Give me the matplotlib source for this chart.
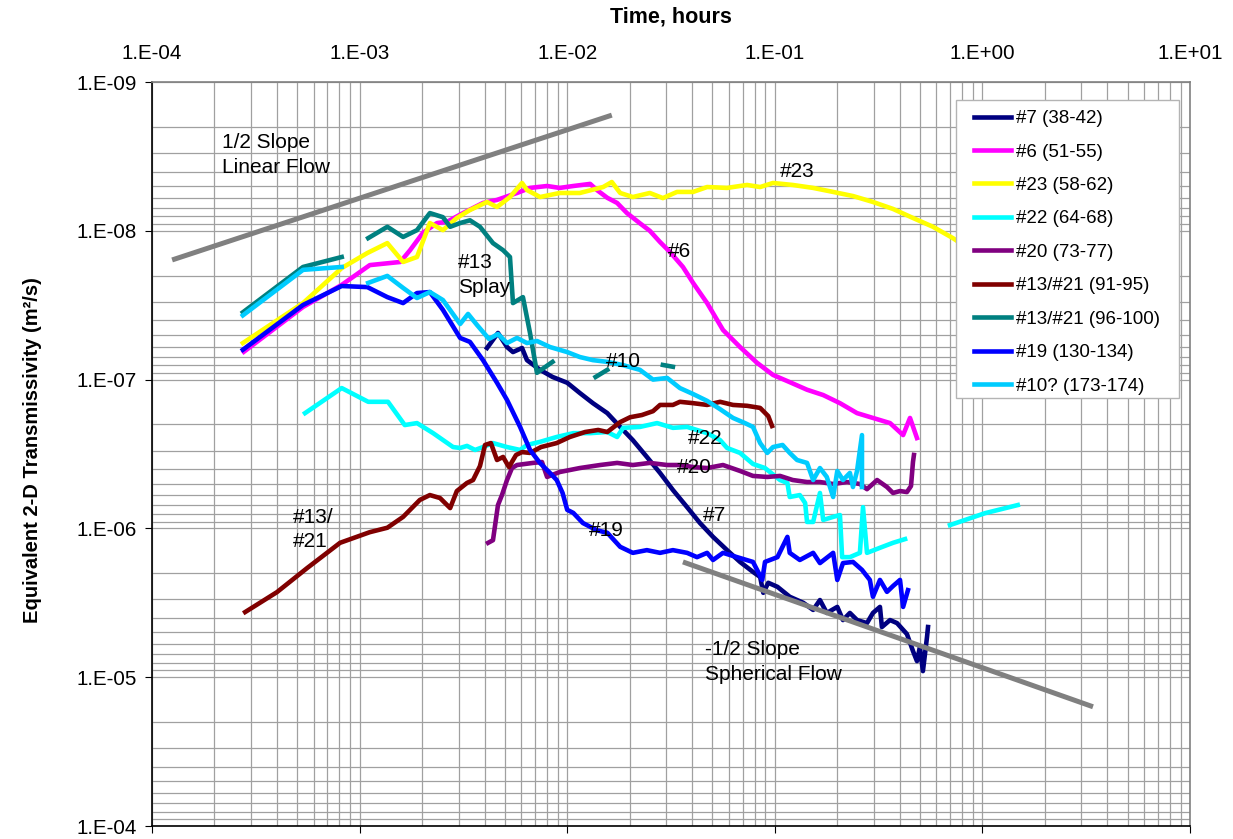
import numpy as np
import matplotlib
matplotlib.use("Agg")
import matplotlib.pyplot as plt
from matplotlib.ticker import LogLocator, FuncFormatter, NullFormatter
from matplotlib.patches import Rectangle

plt.rcParams['font.family'] = ['Liberation Sans', 'DejaVu Sans']

nan = np.nan

# ---------------- data (time in hours, transmissivity in m^2/s) ----------------
t7 = [4.11e-3, 4.64e-3, 5.13e-3, 5.48e-3, 6.06e-3, 6.4e-3, 7.4e-3, 8.5e-3, 1.0e-2, 1.15e-2,
      1.33e-2, 1.56e-2, 1.8e-2, 2.07e-2, 2.42e-2, 2.8e-2, 3.23e-2, 3.78e-2, 4.36e-2, 5.04e-2,
      5.89e-2, 6.8e-2, 7.85e-2, 8.5e-2, 8.8e-2, 9.3e-2, 1.03e-1, 1.18e-1, 1.37e-1, 1.53e-1,
      1.65e-1, 1.78e-1, 2.0e-1, 2.13e-1, 2.3e-1, 2.49e-1, 2.78e-1, 2.97e-1, 3.21e-1, 3.28e-1,
      3.59e-1, 3.88e-1, 4.33e-1, 4.63e-1, 4.84e-1, 5.0e-1, 5.17e-1, 5.41e-1, 5.47e-1]
T7 = [6.13e-8, 4.86e-8, 6.04e-8, 6.53e-8, 6.13e-8, 7.4e-8, 8.6e-8, 9.6e-8, 1.05e-7, 1.23e-7,
      1.44e-7, 1.68e-7, 2.08e-7, 2.55e-7, 3.31e-7, 4.24e-7, 5.52e-7, 7.2e-7, 9.2e-7, 1.14e-6,
      1.4e-6, 1.68e-6, 1.96e-6, 2.12e-6, 2.71e-6, 2.32e-6, 2.47e-6, 2.88e-6, 3.16e-6, 3.53e-6,
      3.03e-6, 3.7e-6, 3.37e-6, 4.13e-6, 3.7e-6, 4.13e-6, 4.33e-6, 3.7e-6, 3.37e-6, 4.6e-6,
      4.13e-6, 4.33e-6, 5.13e-6, 6.67e-6, 7.8e-6, 6.27e-6, 9.1e-6, 5.37e-6, 4.6e-6]

t6 = [2.77e-4, 5.34e-4, 8.2e-4, 1.12e-3, 1.57e-3, 1.75e-3, 2.02e-3, 2.36e-3, 2.64e-3, 3.15e-3,
      3.93e-3, 4.59e-3, 5.73e-3, 6.62e-3, 8.0e-3, 9.2e-3, 1.07e-2, 1.29e-2, 1.39e-2, 1.56e-2,
      1.74e-2, 1.94e-2, 2.24e-2, 2.5e-2, 2.8e-2, 3.13e-2, 3.61e-2, 4.04e-2, 4.72e-2, 5.63e-2,
      6.8e-2, 8.2e-2, 9.8e-2, 1.18e-1, 1.43e-1, 1.71e-1, 2.06e-1, 2.49e-1, 2.97e-1, 3.59e-1,
      4.15e-1, 4.48e-1, 4.84e-1]
T6 = [6.5e-8, 3.25e-8, 2.31e-8, 1.7e-8, 1.62e-8, 1.35e-8, 1.03e-8, 8.87e-9, 8.7e-9, 7.6e-9,
      6.5e-9, 6.2e-9, 5.57e-9, 5.15e-9, 5.0e-9, 5.15e-9, 5.0e-9, 4.84e-9, 5.32e-9, 6.0e-9,
      6.5e-9, 7.6e-9, 8.9e-9, 1.0e-8, 1.19e-8, 1.39e-8, 1.75e-8, 2.24e-8, 3.06e-8, 4.64e-8,
      6.04e-8, 7.7e-8, 9.3e-8, 1.04e-7, 1.17e-7, 1.27e-7, 1.44e-7, 1.68e-7, 1.81e-7, 1.96e-7,
      2.36e-7, 1.81e-7, 2.47e-7]

t23 = [2.74e-4, 5.34e-4, 8.2e-4, 1.09e-3, 1.36e-3, 1.62e-3, 1.89e-3, 2.18e-3, 2.52e-3, 2.94e-3,
       3.4e-3, 4.11e-3, 4.59e-3, 5.3e-3, 6.06e-3, 6.4e-3, 7.4e-3, 9.2e-3, 1.15e-2, 1.49e-2,
       1.64e-2, 1.8e-2, 2.07e-2, 2.5e-2, 2.89e-2, 3.38e-2, 4.04e-2, 4.72e-2, 5.89e-2, 7.35e-2,
       8.5e-2, 9.8e-2, 1.22e-1, 1.53e-1, 1.91e-1, 2.38e-1, 2.97e-1, 3.71e-1, 4.63e-1, 5.78e-1,
       7.21e-1, 9.7e-1]
T23 = [5.68e-8, 3.06e-8, 1.78e-8, 1.41e-8, 1.21e-8, 1.62e-8, 1.5e-8, 8.87e-9, 9.9e-9, 8.2e-9,
       7.25e-9, 6.4e-9, 6.92e-9, 5.93e-9, 4.77e-9, 5.32e-9, 5.93e-9, 5.57e-9, 5.57e-9, 5.08e-9,
       4.7e-9, 5.57e-9, 5.93e-9, 5.57e-9, 6.03e-9, 5.48e-9, 5.48e-9, 5.08e-9, 5.15e-9, 4.92e-9,
       5.08e-9, 4.77e-9, 4.92e-9, 5.15e-9, 5.48e-9, 5.84e-9, 6.4e-9, 7.13e-9, 8.2e-9, 9.4e-9,
       1.12e-8, 1.48e-8]

t22 = [5.46e-4, 8.2e-4, 1.1e-3, 1.37e-3, 1.65e-3, 1.89e-3, 2.26e-3, 2.82e-3, 3.05e-3, 3.29e-3,
       3.6e-3, 3.93e-3, 4.39e-3, 5.13e-3, 5.93e-3, 6.4e-3, 7.4e-3, 8.9e-3, 1.07e-2, 1.29e-2,
       1.56e-2, 1.74e-2, 1.86e-2, 2.24e-2, 2.71e-2, 3.23e-2, 3.78e-2, 4.72e-2, 5.45e-2, 5.89e-2,
       6.8e-2, 7.85e-2, 8.97e-2, 1.06e-1, 1.15e-1, 1.18e-1, 1.32e-1, 1.4e-1, 1.43e-1, 1.53e-1,
       1.65e-1, 1.71e-1, 1.91e-1, 2.06e-1, 2.11e-1, 2.3e-1, 2.57e-1, 2.66e-1, 2.78e-1, 3.21e-1,
       3.71e-1, 4.24e-1, nan, 6.98e-1, 1.03, 1.48]
T22 = [1.68e-7, 1.14e-7, 1.41e-7, 1.41e-7, 2.02e-7, 1.96e-7, 2.29e-7, 2.84e-7, 2.88e-7, 2.79e-7,
       2.97e-7, 2.84e-7, 2.67e-7, 2.84e-7, 2.97e-7, 2.75e-7, 2.62e-7, 2.43e-7, 2.29e-7, 2.29e-7,
       2.25e-7, 2.43e-7, 2.11e-7, 2.08e-7, 1.96e-7, 2.11e-7, 2.08e-7, 2.29e-7, 2.55e-7, 2.88e-7,
       3.11e-7, 3.69e-7, 3.93e-7, 4.73e-7, 4.95e-7, 6.15e-7, 5.97e-7, 6.75e-7, 9.05e-7, 9.05e-7,
       5.78e-7, 8.77e-7, 8.37e-7, 8.13e-7, 1.56e-6, 1.56e-6, 1.46e-6, 7.2e-7, 1.46e-6, 1.35e-6,
       1.25e-6, 1.18e-6, nan, 9.5e-7, 7.9e-7, 6.97e-7]

t20 = [4.16e-3, 4.39e-3, 4.64e-3, 4.85e-3, 5.13e-3, 5.42e-3, 5.73e-3, 6.84e-3, 7.56e-3, 8.0e-3,
       9.2e-3, 1.15e-2, 1.44e-2, 1.74e-2, 2.07e-2, 2.5e-2, 3.03e-2, 3.49e-2, 4.04e-2, 4.72e-2,
       5.63e-2, 6.8e-2, 7.85e-2, 9.2e-2, 1.06e-1, 1.22e-1, 1.43e-1, 1.65e-1, 1.91e-1, 2.23e-1,
       2.57e-1, 2.78e-1, 3.11e-1, 3.47e-1, 3.71e-1, 4.01e-1, 4.33e-1, 4.53e-1, 4.63e-1, 4.68e-1]
T20 = [1.25e-6, 1.2e-6, 6.97e-7, 5.97e-7, 4.73e-7, 3.93e-7, 3.75e-7, 3.63e-7, 3.58e-7, 4.51e-7,
       4.18e-7, 3.93e-7, 3.75e-7, 3.63e-7, 3.75e-7, 3.63e-7, 3.75e-7, 3.75e-7, 3.87e-7, 3.93e-7,
       3.75e-7, 4.11e-7, 4.44e-7, 4.51e-7, 4.44e-7, 4.73e-7, 4.88e-7, 4.88e-7, 5.03e-7, 4.88e-7,
       5.03e-7, 5.45e-7, 4.73e-7, 5.27e-7, 5.78e-7, 5.61e-7, 5.7e-7, 5.19e-7, 3.58e-7, 3.21e-7]

t1321a = [2.81e-4, 4.0e-4, 5.58e-4, 8.05e-4, 1.12e-3, 1.36e-3, 1.62e-3, 1.95e-3, 2.18e-3, 2.44e-3,
          2.73e-3, 2.94e-3, 3.29e-3, 3.52e-3, 3.8e-3, 4.02e-3, 4.29e-3, 4.59e-3, 4.91e-3, 5.24e-3,
          5.67e-3, 6.06e-3, 6.62e-3, 7.48e-3, 8.9e-3, 1.03e-2, 1.22e-2, 1.41e-2, 1.56e-2, 1.8e-2,
          2.01e-2, 2.29e-2, 2.59e-2, 2.8e-2, 3.23e-2, 3.49e-2, 4.04e-2, 4.72e-2, 5.45e-2, 6.29e-2,
          7.35e-2, 8.5e-2, 9.3e-2, 9.7e-2]
T1321a = [3.65e-6, 2.68e-6, 1.85e-6, 1.25e-6, 1.06e-6, 9.9e-7, 8.37e-7, 6.44e-7, 5.97e-7, 6.25e-7,
          7.3e-7, 5.61e-7, 4.95e-7, 4.73e-7, 3.81e-7, 2.75e-7, 2.67e-7, 3.47e-7, 3.31e-7, 3.87e-7,
          3.21e-7, 3.07e-7, 3.11e-7, 2.84e-7, 2.67e-7, 2.43e-7, 2.25e-7, 2.18e-7, 2.25e-7, 1.93e-7,
          1.79e-7, 1.73e-7, 1.63e-7, 1.48e-7, 1.48e-7, 1.41e-7, 1.44e-7, 1.48e-7, 1.41e-7, 1.48e-7,
          1.5e-7, 1.55e-7, 1.76e-7, 2.05e-7]

t1321b = [2.74e-4, 5.34e-4, 8.2e-4, nan, 1.1e-3, 1.36e-3, 1.62e-3, 1.89e-3, 2.18e-3, 2.52e-3,
          2.73e-3, 3.05e-3, 3.4e-3, 3.8e-3, 4.39e-3, 4.91e-3, 5.3e-3, 5.48e-3, 6.12e-3, 6.62e-3,
          7.15e-3, 8.5e-3, nan, 1.37e-2, 1.56e-2, nan, 2.89e-2, 3.23e-2]
T1321b = [3.53e-8, 1.75e-8, 1.5e-8, nan, 1.12e-8, 9.4e-9, 1.1e-8, 9.9e-9, 7.6e-9, 8.1e-9,
          9.4e-9, 8.87e-9, 8.5e-9, 9.4e-9, 1.21e-8, 1.35e-8, 1.5e-8, 3.06e-8, 2.79e-8, 4.86e-8,
          9.0e-8, 7.6e-8, nan, 9.6e-8, 8.6e-8, nan, 7.97e-8, 8.2e-8]

t19 = [2.74e-4, 5.34e-4, 8.2e-4, 1.09e-3, 1.36e-3, 1.62e-3, 1.89e-3, 2.18e-3, 2.52e-3, 3.05e-3,
       3.4e-3, 3.93e-3, 4.59e-3, 5.13e-3, 5.93e-3, 6.62e-3, 7.4e-3, 8.26e-3, 8.9e-3, 9.5e-3,
       1.0e-2, 1.07e-2, 1.19e-2, 1.39e-2, 1.56e-2, 1.8e-2, 2.07e-2, 2.42e-2, 2.8e-2, 3.23e-2,
       3.78e-2, 4.22e-2, 4.72e-2, 5.04e-2, 5.63e-2, 6.58e-2, 7.85e-2, 8.7e-2, 8.97e-2, 1.03e-1,
       1.15e-1, 1.18e-1, 1.32e-1, 1.53e-1, 1.65e-1, 1.91e-1, 2.0e-1, 2.13e-1, 2.38e-1, 2.63e-1,
       2.87e-1, 2.97e-1, 3.21e-1, 3.47e-1, 3.71e-1, 4.01e-1, 4.15e-1, 4.38e-1]
T19 = [6.3e-8, 3.15e-8, 2.35e-8, 2.39e-8, 2.79e-8, 3.06e-8, 2.62e-8, 2.58e-8, 3.4e-8, 5.25e-8,
       5.58e-8, 7.4e-8, 1.05e-7, 1.37e-7, 2.08e-7, 2.97e-7, 3.64e-7, 4.24e-7, 4.73e-7, 5.78e-7,
       7.5e-7, 7.87e-7, 9.2e-7, 1.03e-6, 1.07e-6, 1.33e-6, 1.46e-6, 1.4e-6, 1.46e-6, 1.4e-6,
       1.46e-6, 1.56e-6, 1.46e-6, 1.63e-6, 1.46e-6, 1.56e-6, 1.68e-6, 2.22e-6, 1.68e-6, 1.56e-6,
       1.14e-6, 1.46e-6, 1.63e-6, 1.46e-6, 1.71e-6, 1.46e-6, 2.22e-6, 1.71e-6, 1.68e-6, 1.9e-6,
       2.22e-6, 2.88e-6, 2.22e-6, 2.67e-6, 2.44e-6, 2.22e-6, 3.37e-6, 2.6e-6]

t10 = [2.74e-4, 5.34e-4, 8.2e-4, nan, 1.1e-3, 1.36e-3, 1.62e-3, 1.89e-3, 2.18e-3, 2.52e-3,
       3.05e-3, 3.33e-3, 3.68e-3, 4.2e-3, 4.64e-3, 5.13e-3, 5.73e-3, 6.4e-3, 7.15e-3, 8.26e-3,
       1.0e-2, 1.15e-2, 1.33e-2, 1.56e-2, 1.86e-2, 2.24e-2, 2.59e-2, 3.03e-2, 3.49e-2, 4.04e-2,
       4.72e-2, 5.45e-2, 6.29e-2, 7.18e-2, 7.85e-2, 8.5e-2, 9.2e-2, 9.8e-2, 1.09e-1, 1.18e-1,
       1.28e-1, 1.43e-1, 1.53e-1, 1.65e-1, 1.78e-1, 1.91e-1, 2.0e-1, 2.13e-1, 2.3e-1, 2.38e-1,
       2.49e-1, 2.63e-1, 2.63e-1]
T10 = [3.7e-8, 1.83e-8, 1.75e-8, nan, 2.24e-8, 2.01e-8, 2.42e-8, 2.83e-8, 2.58e-8, 2.92e-8,
       4.23e-8, 3.62e-8, 4.3e-8, 5.33e-8, 4.94e-8, 5.68e-8, 5.25e-8, 5.68e-8, 5.5e-8, 6.04e-8,
       6.53e-8, 7.05e-8, 7.4e-8, 7.6e-8, 8.0e-8, 8.6e-8, 1.0e-7, 9.75e-8, 1.14e-7, 1.25e-7,
       1.39e-7, 1.58e-7, 1.81e-7, 1.96e-7, 2.08e-7, 2.67e-7, 3.11e-7, 2.84e-7, 2.75e-7, 3.11e-7,
       3.47e-7, 3.63e-7, 4.73e-7, 3.93e-7, 4.51e-7, 6.15e-7, 4.11e-7, 4.73e-7, 4.24e-7, 5.27e-7,
       4.11e-7, 2.36e-7, 5.27e-7]

# reference slope lines
slope_lin_t = [1.25e-4, 1.64e-2]
slope_lin_T = [1.57e-8, 1.67e-9]
slope_sph_t = [3.61e-2, 3.41]
slope_sph_T = [1.68e-6, 1.58e-5]

series_labels = ["#7 (38-42)", "#6 (51-55)", "#23 (58-62)", "#22 (64-68)", "#20 (73-77)",
                 "#13/#21 (91-95)", "#13/#21 (96-100)", "#19 (130-134)", "#10? (173-174)"]
series_colors = ["#000080", "#FF00FF", "#FFFF00", "#00FFFF", "#800080",
                 "#800000", "#008080", "#0000FF", "#00CCFF"]
series_t = [t7, t6, t23, t22, t20, t1321a, t1321b, t19, t10]
series_T = [T7, T6, T23, T22, T20, T1321a, T1321b, T19, T10]

annot_text = ["1/2 Slope\nLinear Flow", "#23", "#13\nSplay", "#6", "#10", "#22", "#20",
              "#7", "#19", "#13/\n#21", "-1/2 Slope\nSpherical Flow"]
annot_t = [2.17e-4, 1.06e-1, 2.98e-3, 3.06e-2, 1.54e-2, 3.82e-2, 3.38e-2, 4.51e-2, 1.27e-2,
           4.78e-4, 4.61e-2]
annot_T = [3.1e-9, 4.0e-9, 1.98e-8, 1.37e-8, 7.6e-8, 2.47e-7, 3.87e-7, 8.13e-7, 1.04e-6,
           1.02e-6, 7.9e-6]

xtick_vals = [1e-4, 1e-3, 1e-2, 1e-1, 1e0, 1e1]
ytick_vals = [1e-9, 1e-8, 1e-7, 1e-6, 1e-5, 1e-4]

# ---------------- figure ----------------
W, H = 1233, 839
fig = plt.figure(figsize=(W / 100, H / 100), dpi=100)
L, R, TOP, BOT = 152, 1190, 82, 826
ax = fig.add_axes([L / W, 1 - BOT / H, (R - L) / W, (BOT - TOP) / H])
ax.set_xscale('log')
ax.set_yscale('log')

ax.set_xticks(xtick_vals)
ax.set_yticks(ytick_vals)
ax.xaxis.set_minor_locator(LogLocator(base=10, subs=np.arange(2, 10), numticks=200))
ax.yaxis.set_minor_locator(LogLocator(base=10, subs=np.arange(2, 10), numticks=200))
ax.xaxis.set_minor_formatter(NullFormatter())
ax.yaxis.set_minor_formatter(NullFormatter())

def efmt(v, pos):
    e = int(round(np.log10(v)))
    return "1.E{:+03d}".format(e)

ax.xaxis.set_major_formatter(FuncFormatter(efmt))
ax.yaxis.set_major_formatter(FuncFormatter(efmt))
ax.set_xlim(1e-4, 1e1)
ax.set_ylim(1e-4, 1e-9)

ax.grid(which='both', color='#a0a0a0', lw=0.9)
ax.set_axisbelow(True)

ax.tick_params(which='minor', length=0)
ax.tick_params(axis='x', which='major', top=False, bottom=True, labeltop=True,
               labelbottom=False, direction='out', length=5, labelsize=14.8, pad=9)
ax.tick_params(axis='y', which='major', left=True, direction='out', length=5,
               labelsize=14.8, pad=6)

for s in ['left', 'bottom']:
    ax.spines[s].set_color('black')
    ax.spines[s].set_linewidth(1.2)
for s in ['top', 'right']:
    ax.spines[s].set_color('#808080')
    ax.spines[s].set_linewidth(1.2)

handles = []
for tt, TT, c, lab in zip(series_t, series_T, series_colors, series_labels):
    h, = ax.plot(tt, TT, color=c, lw=3.3, label=lab, solid_joinstyle='round')
    handles.append(h)

ax.plot(slope_lin_t, slope_lin_T, color='#808080', lw=3.6, solid_capstyle='butt')
ax.plot(slope_sph_t, slope_sph_T, color='#808080', lw=3.6, solid_capstyle='butt')

for s, x, y in zip(annot_text, annot_t, annot_T):
    ax.text(x, y, s, ha='left', va='center', fontsize=15, linespacing=1.35, color='black')

# legend box (drawn as a separate frame so that its padding matches the original)
fx0, fx1, fy0, fy1 = 956, 1179, 100, 398
frame = Rectangle(((fx0 - L) / (R - L), (BOT - fy1) / (BOT - TOP)),
                  (fx1 - fx0) / (R - L), (fy1 - fy0) / (BOT - TOP),
                  transform=ax.transAxes, facecolor='white', edgecolor='#b4b4b4',
                  lw=1.0, zorder=4)
ax.add_patch(frame)

leg = ax.legend(handles=handles, loc='upper left',
                bbox_to_anchor=((974 - L) / (R - L), (BOT - 110) / (BOT - TOP)),
                borderaxespad=0, borderpad=0, fontsize=13.5, frameon=False,
                labelspacing=0.87, handlelength=1.95, handletextpad=0.3)
leg.set_zorder(5)

fig.text((L + R) / 2 / W, 1 - 17 / H, "Time, hours", ha='center', va='center',
         fontsize=15.5, fontweight='bold')
fig.text(33 / W, 1 - 450 / H, "Equivalent 2-D Transmissivity (m²/s)", ha='center',
         va='center', rotation=90, fontsize=14.5, fontweight='bold')

fig.savefig("out.png", dpi=100)
